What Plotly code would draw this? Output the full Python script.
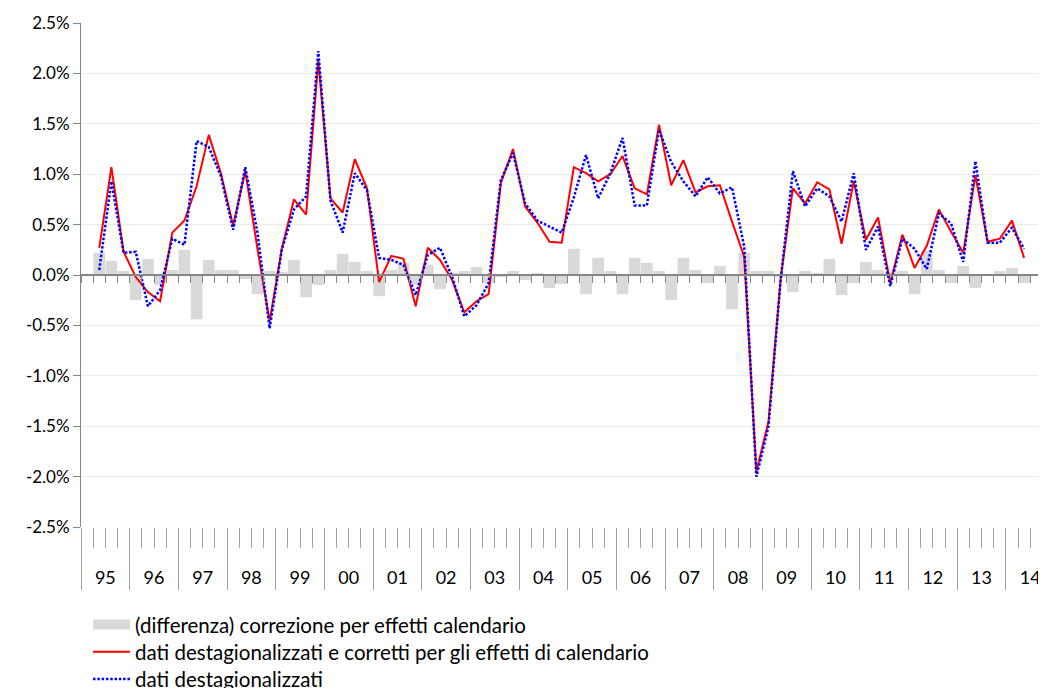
import plotly.graph_objects as go

# Quarterly data, 1995 Q2 .. 2014 Q2 (quarter-on-quarter % changes)
years = ["95", "96", "97", "98", "99", "00", "01", "02", "03", "04",
         "05", "06", "07", "08", "09", "10", "11", "12", "13", "14"]

red_adj = [0.27, 1.07, 0.23,
           -0.02, -0.17, -0.26, 0.42,
           0.54, 0.88, 1.39, 1.01,
           0.49, 1.03, 0.26, -0.46,
           0.26, 0.75, 0.60, 2.13,
           0.76, 0.62, 1.15, 0.86,
           -0.07, 0.19, 0.16, -0.31,
           0.27, 0.15, -0.05, -0.37,
           -0.26, -0.19, 0.91, 1.25,
           0.68, 0.52, 0.33, 0.32,
           1.07, 1.01, 0.93, 1.00,
           1.18, 0.86, 0.80, 1.49,
           0.89, 1.14, 0.82, 0.88,
           0.89, 0.53, 0.18, -1.95,
           -1.45, -0.03, 0.86, 0.71,
           0.92, 0.85, 0.31, 0.93,
           0.35, 0.57, -0.08, 0.40,
           0.07, 0.29, 0.65, 0.43,
           0.22, 0.99, 0.33, 0.36,
           0.54, 0.17]

blue_sa = [0.05, 0.93, 0.22,
           0.23, -0.31, -0.15, 0.36,
           0.30, 1.33, 1.27, 0.98,
           0.45, 1.07, 0.42, -0.53,
           0.25, 0.65, 0.78, 2.22,
           0.74, 0.42, 1.01, 0.84,
           0.17, 0.15, 0.10, -0.20,
           0.20, 0.27, -0.02, -0.41,
           -0.30, -0.08, 0.94, 1.21,
           0.71, 0.54, 0.48, 0.42,
           0.77, 1.19, 0.76, 1.01,
           1.36, 0.69, 0.69, 1.44,
           1.12, 0.93, 0.78, 0.97,
           0.81, 0.87, 0.28, -2.00,
           -1.50, -0.04, 1.03, 0.68,
           0.86, 0.78, 0.53, 1.01,
           0.25, 0.48, -0.11, 0.36,
           0.26, 0.06, 0.61, 0.51,
           0.13, 1.13, 0.32, 0.32,
           0.47, 0.26]

diff_cal = [0.22, 0.14, 0.04,
            -0.25, 0.16, -0.10, 0.05,
            0.25, -0.44, 0.15, 0.05,
            0.05, -0.04, -0.19, 0.04,
            0.03, 0.15, -0.22, -0.10,
            0.05, 0.21, 0.13, 0.04,
            -0.21, 0.05, 0.12, -0.10,
            0.10, -0.14, 0.01, 0.04,
            0.08, -0.08, -0.02, 0.04,
            -0.05, 0.02, -0.13, -0.09,
            0.26, -0.19, 0.17, 0.04,
            -0.19, 0.17, 0.12, 0.04,
            -0.25, 0.17, 0.05, -0.08,
            0.09, -0.34, 0.22, 0.04,
            0.04, -0.02, -0.17, 0.04,
            0.02, 0.16, -0.20, -0.08,
            0.13, 0.05, 0.03, 0.04,
            -0.19, 0.24, 0.05, -0.08,
            0.09, -0.13, 0.00, 0.04,
            0.07, -0.08]

y_ticks = [-2.5, -2.0, -1.5, -1.0, -0.5, 0.0, 0.5, 1.0, 1.5, 2.0, 2.5]

FIRST_Q = 1  # series starts at 1995 Q2 (index 1 from 1995 Q1)
xpos = [FIRST_Q + k + 0.5 for k in range(len(red_adj))]
n_q = len(years) * 4
XR = [0, 79.3]
FONT = "Lato"
BAR_COLOR = "#d9d9d9"
AXIS_GRAY = "#868686"
LEG_FONT = dict(size=20.5, family=FONT, color="#000000")

fig = go.Figure()
fig.add_trace(go.Bar(
    x=xpos, y=diff_cal, marker=dict(color=BAR_COLOR, line=dict(width=0)),
    name="(differenza) correzione per effetti calendario", showlegend=False,
    hoverinfo="y"))
# legend proxy for the bars (wide rectangle like the original legend key)
fig.add_trace(go.Scatter(
    x=[None], y=[None], mode="lines", line=dict(color=BAR_COLOR, width=13),
    name="(differenza) correzione per effetti calendario", showlegend=True,
    legend="legend"))
fig.add_trace(go.Scatter(
    x=xpos, y=red_adj, mode="lines", line=dict(color="#ff0000", width=2),
    name="dati destagionalizzati e corretti per gli effetti di calendario",
    legend="legend2"))
fig.add_trace(go.Scatter(
    x=xpos, y=blue_sa, mode="lines",
    line=dict(color="#0000ff", width=2.5, dash="2.5px,1.8px"),
    name="dati destagionalizzati", legend="legend3"))
# invisible helpers so that the auxiliary axes get drawn
for ax in ("x2", "x3"):
    fig.add_trace(go.Scatter(x=xpos, y=diff_cal, xaxis=ax, yaxis="y",
                             mode="markers", marker=dict(opacity=0),
                             showlegend=False, hoverinfo="skip"))

leg_common = dict(x=0.0073, xanchor="left", yanchor="middle", orientation="v",
                  font=LEG_FONT, bgcolor="rgba(0,0,0,0)", itemwidth=37)

fig.update_layout(
    width=1046, height=688,
    margin=dict(l=73, r=8, t=15, b=169, autoexpand=False),
    paper_bgcolor="white", plot_bgcolor="white",
    bargap=0.04,
    font=dict(family=FONT, size=17, color="#000000"),
    showlegend=True,
    legend=dict(y=-0.194, **leg_common),
    legend2=dict(y=-0.248, **leg_common),
    legend3=dict(y=-0.302, **leg_common),
    xaxis=dict(range=XR, showgrid=False, zeroline=False, showline=False,
               automargin=False,
               tickmode="array", tickvals=list(range(0, n_q + 1, 4)),
               showticklabels=False, ticks="outside", ticklen=62,
               tickcolor="#a0a0a0", tickwidth=1,
               minor=dict(ticks="outside", ticklen=20, tickmode="linear",
                          tick0=0, dtick=1, tickcolor="#a0a0a0", tickwidth=1,
                          showgrid=False)),
    xaxis2=dict(range=XR, overlaying="x", anchor="free", position=0.5,
                automargin=False,
                showgrid=False, zeroline=False, showline=True,
                linecolor=AXIS_GRAY, linewidth=2,
                tickmode="array", tickvals=list(range(0, n_q + 1)),
                ticks="outside", ticklen=7, tickcolor=AXIS_GRAY, tickwidth=1,
                showticklabels=False),
    xaxis3=dict(range=XR, overlaying="x", anchor="y", side="bottom",
                automargin=False,
                showgrid=False, zeroline=False, showline=False,
                tickmode="array",
                tickvals=[4 * k + 2 for k in range(len(years))],
                ticktext=years, ticks="outside", ticklen=34,
                tickcolor="rgba(0,0,0,0)", tickfont=dict(size=18, family=FONT)),
    yaxis=dict(range=[-2.5, 2.5], tickmode="array", tickvals=y_ticks,
               ticktext=[f"{v:.1f}%" for v in y_ticks],
               automargin=False,
               showgrid=True, gridcolor="#ebebeb", gridwidth=1,
               zeroline=False, showline=True, linecolor=AXIS_GRAY, linewidth=1,
               ticks="outside", ticklen=7, tickcolor=AXIS_GRAY, tickwidth=1,
               tickfont=dict(size=17, family=FONT)),
)

fig.write_html("out.html")
